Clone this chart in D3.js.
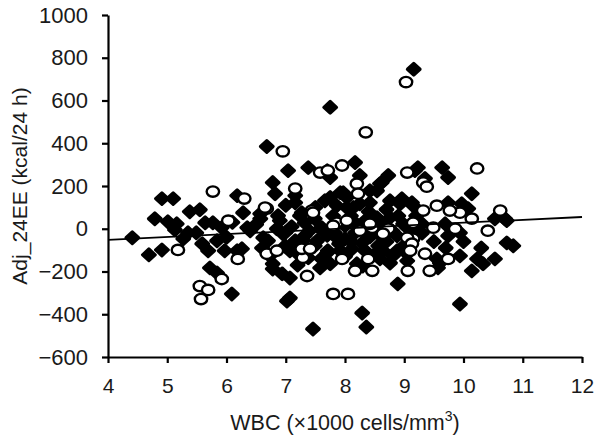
<!DOCTYPE html>
<html><head><meta charset="utf-8">
<script src="https://cdn.jsdelivr.net/npm/d3@7"></script>
<style>
body{margin:0;background:#fff;}
svg{display:block;}
text{font-family:"Liberation Sans",Arial,Helvetica,sans-serif;fill:#1a1a1a;}
</style></head>
<body>
<svg id="c" width="600" height="436"></svg>
<script>
const xTicks = [4,5,6,7,8,9,10,11,12];
const yTicks = [-600,-400,-200,0,200,400,600,800,1000];
const xLabel = "WBC (\u00d71000 cells/mm";
const xLabelSup = "3";
const xLabelEnd = ")";
const yLabel = "Adj_24EE (kcal/24 h)";

// regression line endpoints [x, y]
const fitX = [4, 12];
const fitY = [-52, 55];

// filled diamonds [WBC, Adj_24EE]
const filledPts = [
[9.16,746],[7.75,568],[6.68,385],[4.41,-42],[4.69,-122],[4.91,-99],[4.91,141],[5.10,141],
[5.38,80],[5.55,89],[4.79,47],[5.01,33],[5.16,23],[6.18,155],[6.78,216],[6.82,164],
[7.04,272],[5.35,-19],[5.27,-47],[5.77,28],[5.92,5],[6.28,75],[6.35,5],[6.57,47],
[6.87,61],[6.85,0],[5.59,-70],[5.69,-103],[5.84,-56],[5.97,-103],[5.72,-183],[5.84,-207],
[6.18,-103],[6.26,-94],[6.09,-305],[6.70,-56],[6.73,-127],[6.78,-188],[6.94,-211],[7.02,-338],
[7.38,286],[7.75,240],[8.17,310],[7.16,155],[7.16,122],[8.25,249],[8.59,211],[8.73,249],
[8.54,178],[9.18,272],[7.97,169],[7.66,131],[7.86,108],[8.03,99],[8.25,117],[8.42,122],
[8.76,131],[8.93,117],[9.13,122],[7.27,75],[7.32,28],[7.49,47],[7.58,0],[8.34,38],
[8.59,28],[8.98,23],[9.15,5],[7.83,-19],[8.00,-47],[8.17,-19],[8.29,-66],[8.42,-38],
[8.12,-94],[8.34,-103],[8.56,-80],[7.92,-103],[6.99,-19],[7.16,-56],[7.32,-33],[7.07,-103],
[7.24,-127],[7.49,-80],[6.99,-80],[7.71,-103],[8.20,-164],[8.30,-174],[8.59,-141],[8.81,-127],
[7.07,-230],[7.58,-183],[8.89,-258],[7.07,-324],[8.29,-394],[8.36,-460],[7.46,-469],[9.23,286],
[9.64,286],[9.74,240],[8.96,141],[9.15,108],[9.74,122],[9.97,117],[10.14,164],[10.08,94],
[9.05,5],[9.30,23],[9.69,23],[9.74,-33],[9.94,-19],[10.53,47],[10.73,38],[8.96,-89],
[9.05,-117],[9.55,-141],[9.94,-127],[9.57,-183],[10.23,-141],[10.33,-164],[10.14,-197],[10.53,-141],
[10.73,-66],[10.84,-80],[9.94,-352],[9.35,235],[10.70,47],[9.60,-160],[6.57,70],[6.40,-9],
[6.62,-42],[6.95,-23],[7.29,-56],[7.53,-56],[7.86,-42],[7.75,-164],[7.70,-113],[7.38,-136],
[6.78,-164],[7.24,61],[6.90,38],[8.76,52],[8.54,52],[8.64,-42],[8.88,-33],[8.64,-103],
[8.88,-103],[8.76,-160],[9.05,-150],[8.03,146],[8.14,99],[8.62,216],[8.42,178],[7.70,272],
[7.92,169],[7.75,146],[7.61,5],[8.00,14],[5.13,-5],[5.49,-19],[5.64,28],
[7.10,10],[7.40,-10],[7.70,-30],[7.90,-70],[8.10,-60],[8.20,20],[8.45,-10],[8.70,-60],
[8.80,-10],[7.50,100],[7.80,60],[8.10,60],[8.40,80],[8.70,90],[7.20,-170],[7.60,-140],
[8.00,-130],[8.50,-120],[6.60,-90],[6.50,20],[6.00,-40],[6.10,30],[9.30,-20],[9.50,-60],
[9.70,-90],[10.00,-60],[10.30,-90],[7.00,110],[8.90,60],[9.20,60]
];

// open circles [WBC, Adj_24EE]
const openPts = [
[9.03,686],[8.35,451],[6.95,362],[5.77,174],[6.30,141],[6.68,94],[5.18,-99],[5.92,-235],
[6.19,-141],[5.55,-268],[5.69,-286],[5.57,-329],[6.68,-117],[6.85,-103],[7.58,263],[7.71,272],
[7.95,296],[7.16,188],[8.20,211],[9.05,263],[8.22,164],[7.44,85],[7.86,28],[8.03,38],
[8.46,5],[8.73,0],[8.64,-23],[7.29,-136],[7.95,-141],[8.39,-141],[8.46,-197],[9.06,-197],
[7.36,-221],[7.80,-305],[8.05,-305],[10.23,282],[9.32,216],[9.38,197],[9.32,85],[9.55,108],
[9.94,75],[9.77,85],[9.15,28],[9.49,5],[9.86,0],[10.14,47],[10.41,-9],[10.62,85],
[9.15,-47],[9.35,-117],[9.74,-141],[9.43,-197],[6.65,99],[7.80,14],[7.27,-94],[7.41,-94],
[8.42,23],[8.25,-9],[9.05,-42],[9.13,-70],[9.10,-103],[7.46,75],[6.03,38],[8.17,-197]
];

const svg = d3.select("#c");
const x = d3.scaleLinear().domain([4,12]).range([108,582]);
const y = d3.scaleLinear().domain([-600,1000]).range([357,15]);

// filled diamonds
const dw = 6.3, dh = 5.8;
svg.append("g").selectAll("path").data(filledPts).join("path")
  .attr("d", d => {
    const cx = x(d[0]), cy = y(d[1]);
    return `M${cx},${cy-dh}L${cx+dw},${cy}L${cx},${cy+dh}L${cx-dw},${cy}Z`;
  })
  .attr("fill","#000").attr("stroke","#000").attr("stroke-width",3.2)
  .attr("stroke-linejoin","round");

// open circles
svg.append("g").selectAll("ellipse").data(openPts).join("ellipse")
  .attr("cx", d => x(d[0])).attr("cy", d => y(d[1]))
  .attr("rx",6.2).attr("ry",5.2)
  .attr("fill","#fff").attr("stroke","#000").attr("stroke-width",2.4);

// regression line
svg.append("line")
  .attr("x1", x(fitX[0])).attr("y1", y(fitY[0]))
  .attr("x2", x(fitX[1])).attr("y2", y(fitY[1]))
  .attr("stroke","#000").attr("stroke-width",1.8);

// axes
const fmt = d3.format("d");
const xa = svg.append("g").attr("transform","translate(0,357)")
  .call(d3.axisBottom(x).tickValues(xTicks).tickFormat(fmt).tickSize(6).tickSizeOuter(0).tickPadding(15));
const ya = svg.append("g").attr("transform","translate(108,0)")
  .call(d3.axisLeft(y).tickValues(yTicks).tickFormat(fmt).tickSize(6).tickSizeOuter(0).tickPadding(14));
[xa, ya].forEach(g => {
  g.select(".domain").attr("stroke","#000").attr("stroke-width",2.2);
  g.selectAll(".tick line").attr("stroke","#000").attr("stroke-width",2.2);
  g.selectAll(".tick text").attr("fill","#1a1a1a")
    .attr("font-family","Liberation Sans, Arial, sans-serif");
});
xa.selectAll(".tick text").attr("font-size",21);
ya.selectAll(".tick text").attr("font-size",22);

// axis titles
const xt = svg.append("text").attr("x",345).attr("y",430).attr("text-anchor","middle")
  .attr("font-size",21.5);
xt.append("tspan").text(xLabel);
xt.append("tspan").attr("dy",-9).attr("font-size",14).text(xLabelSup);
xt.append("tspan").attr("dy",9).text(xLabelEnd);

svg.append("text").attr("transform","translate(27,186) rotate(-90)")
  .attr("text-anchor","middle").attr("font-size",21).text(yLabel);
</script>
</body></html>
